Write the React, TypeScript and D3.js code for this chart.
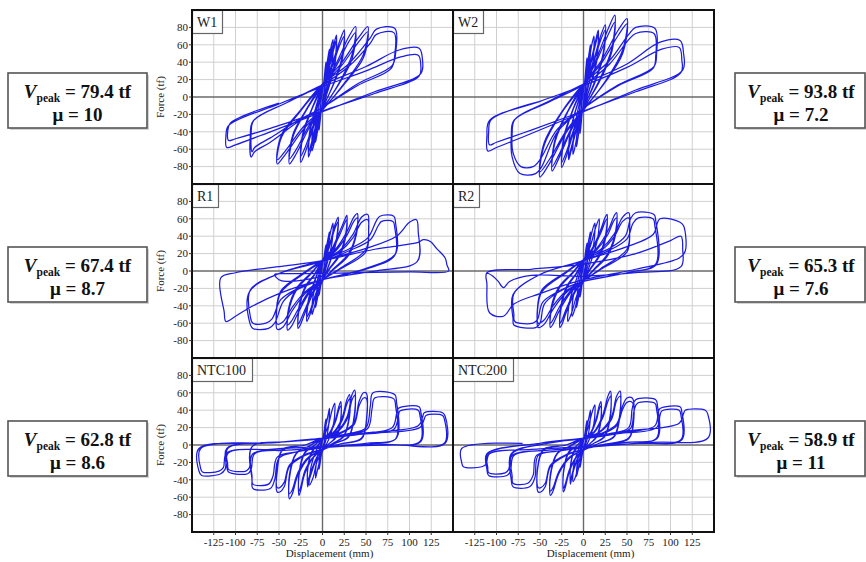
import React from 'react';
import * as d3 from 'd3';

type P = [number, number];

// ---- hysteresis loops (displacement mm, force tf), one array of cycles per specimen ----
const W1: P[][] = [
  [[0,6],[1.6,18],[3.2,34],[4,40],[3.6,24],[2,8],[0,-6],[-1.6,-17],[-3.2,-32],[-4,-38],[-3.6,-23],[-2,-8]],
  [[0,8],[3,25],[6.5,47],[8,55],[7,33],[4,11],[0,-8],[-3,-23],[-6.5,-44],[-8,-52],[-7,-31],[-4,-10]],
  [[0,10],[5,30],[9.5,56],[12,66],[11,40],[6,13],[0,-10],[-5,-28],[-9.5,-53],[-12,-62],[-11,-37],[-6,-12]],
  [[0,9],[5,27],[9.5,51],[12,60],[11,36],[6,12],[0,-9],[-5,-26],[-9.5,-48],[-12,-57],[-11,-34],[-6,-11]],
  [[0,12],[6.5,32],[13,60],[16,71],[14.5,43],[8,14],[0,-12],[-6.5,-31],[-13,-59],[-16,-69],[-14.5,-41],[-8,-14]],
  [[0,11],[6.5,29],[13,55],[16,65],[14.5,39],[8,13],[0,-11],[-6.5,-28],[-13,-54],[-16,-63],[-14.5,-38],[-8,-13]],
  [[0,13],[10,35],[20,65],[25,77],[22.5,46],[12.5,15],[0,-13],[-10,-34],[-20,-64],[-25,-75],[-22.5,-45],[-12.5,-15]],
  [[0,12],[10,32],[20,60],[25,70],[22.5,42],[12.5,14],[0,-12],[-10,-31],[-20,-58],[-25,-68],[-22.5,-41],[-12.5,-14]],
  [[0,14],[15,37],[30,69],[38,81],[34,49],[19,16],[0,-14],[-15,-35],[-30,-65],[-38,-77],[-34,-46],[-19,-16]],
  [[0,13],[15,34],[30,63],[38,74],[34,44],[19,15],[0,-13],[-15,-32],[-30,-60],[-38,-71],[-34,-43],[-19,-15]],
  [[0,15],[21,38],[42,69],[52,81],[47,49],[26,17],[0,-15],[-21,-36],[-42,-65],[-52,-77],[-47,-46],[-26,-17]],
  [[0,14],[21,35],[42,64],[52,75],[47,45],[26,16],[0,-14],[-21,-33],[-42,-61],[-52,-72],[-47,-43],[-26,-16]],
  [[0,15],[30,38],[55,68],[62,78],[83,79],[84,50],[80,36],[40,15],[0,-12],[-30,-30],[-60,-52],[-78,-63],[-82,-69],[-83,-45],[-80,-28],[-40,-6]],
  [[0,14],[30,35],[55,62],[62,72],[82,74],[83,48],[79,33],[40,13],[0,-12],[-30,-28],[-60,-47],[-78,-58],[-81,-63],[-82,-42],[-79,-27],[-40,-6]],
  [[0,14],[50,35],[88,54],[111,56],[115,42],[113,27],[60,6],[0,-17],[-60,-40],[-100,-55],[-110,-58],[-111,-45],[-108,-33],[-50,-8]],
  [[0,12],[50,30],[90,46],[110,48],[113,36],[111,24],[60,4],[0,-16],[-60,-36],[-100,-48],[-108,-50],[-109,-40],[-106,-30],[-50,-7]],
];

const W2: P[][] = [
  [[0,6],[1.6,20],[3.2,38],[4,45],[3.6,27],[2,9],[0,-6],[-1.6,-19],[-3.2,-36],[-4,-42],[-3.6,-25],[-2,-8]],
  [[0,8],[3,27],[6.5,51],[8,60],[7,36],[4,12],[0,-8],[-3,-25],[-6.5,-48],[-8,-57],[-7,-34],[-4,-11]],
  [[0,10],[5,32],[9.5,60],[12,70],[11,42],[6,14],[0,-10],[-5,-30],[-9.5,-56],[-12,-66],[-11,-40],[-6,-13]],
  [[0,12],[7,35],[14,65],[17,77],[15.5,46],[8.5,15],[0,-12],[-7,-33],[-14,-61],[-17,-72],[-15.5,-43],[-8.5,-14]],
  [[0,11],[7,33],[14,61],[17,72],[15.5,43],[8.5,14],[0,-11],[-7,-31],[-14,-58],[-17,-68],[-15.5,-41],[-8.5,-13]],
  [[0,13],[10,37],[20,71],[25,83],[22.5,50],[12.5,17],[0,-13],[-10,-36],[-20,-69],[-25,-81],[-22.5,-49],[-12.5,-16]],
  [[0,12],[10,35],[20,66],[25,77],[22.5,46],[12.5,15],[0,-12],[-10,-34],[-20,-64],[-25,-75],[-22.5,-45],[-12.5,-15]],
  [[0,14],[14,42],[29,80],[36,94],[32.5,56],[18,19],[0,-14],[-14,-38],[-29,-72],[-36,-85],[-32.5,-51],[-18,-17]],
  [[0,13],[14,39],[29,73],[36,86],[32.5,52],[18,17],[0,-13],[-14,-36],[-29,-68],[-36,-80],[-32.5,-48],[-18,-16]],
  [[0,15],[20,41],[40,77],[50,90],[45,54],[25,18],[0,-15],[-20,-41],[-40,-78],[-50,-92],[-45,-55],[-25,-18]],
  [[0,14],[20,38],[40,71],[50,84],[45,50],[25,17],[0,-14],[-20,-39],[-40,-73],[-50,-86],[-45,-52],[-25,-17]],
  [[0,15],[30,42],[52,72],[60,80],[82,79],[84,50],[81,35],[40,14],[0,-13],[-30,-40],[-48,-80],[-55,-88],[-73,-88],[-82,-69],[-83,-45],[-80,-27],[-40,-6]],
  [[0,14],[30,38],[52,66],[60,73],[81,73],[83,47],[80,33],[40,13],[0,-13],[-30,-37],[-50,-72],[-58,-80],[-72,-80],[-81,-64],[-82,-42],[-79,-26],[-40,-5]],
  [[0,15],[50,38],[88,63],[111,65],[115,50],[114,31],[60,8],[0,-17],[-60,-42],[-100,-58],[-110,-62],[-111,-45],[-108,-27],[-50,-5]],
  [[0,13],[50,34],[90,55],[110,57],[113,43],[112,28],[60,6],[0,-16],[-60,-38],[-100,-52],[-108,-55],[-109,-40],[-106,-26],[-50,-5]],
];

const R1: P[][] = [
  [[0,6],[1.6,15],[3.2,26],[4,30],[3.6,18],[2,6],[0,-6],[-1.6,-14],[-3.2,-24],[-4,-28],[-3.6,-17],[-2,-6]],
  [[0,8],[3,20],[6.5,38],[8,45],[7,27],[4,9],[0,-8],[-3,-19],[-6.5,-35],[-8,-42],[-7,-25],[-4,-9]],
  [[0,10],[5,24],[9.5,46],[12,55],[11,33],[6,11],[0,-10],[-5,-23],[-9.5,-42],[-12,-50],[-11,-30],[-6,-11]],
  [[0,12],[7,27],[14,52],[18,62],[16,37],[9,12],[0,-12],[-7,-26],[-14,-49],[-18,-58],[-16,-35],[-9,-12]],
  [[0,11],[7,25],[14,48],[18,57],[16,34],[9,11],[0,-11],[-7,-24],[-14,-45],[-18,-53],[-16,-32],[-9,-11]],
  [[0,12],[10,24],[20,46],[26,60],[28,64],[27,45],[20,20],[8,3],[0,-10],[-10,-24],[-20,-48],[-26,-63],[-28,-66],[-27,-45],[-20,-20],[-8,-3]],
  [[0,11],[10,22],[20,42],[26,56],[28,59],[27,41],[20,18],[8,2],[0,-10],[-10,-22],[-20,-44],[-26,-58],[-28,-61],[-27,-41],[-20,-18],[-8,-2]],
  [[0,13],[15,25],[28,45],[36,62],[40,66],[39,45],[30,20],[12,2],[0,-11],[-15,-25],[-28,-48],[-36,-64],[-40,-68],[-39,-47],[-30,-22],[-12,-2]],
  [[0,12],[15,23],[28,41],[36,57],[40,61],[39,42],[30,18],[12,1],[0,-11],[-15,-23],[-28,-44],[-36,-58],[-40,-62],[-39,-43],[-30,-20],[-12,-1]],
  [[0,12],[20,24],[35,42],[45,62],[52,65],[53,50],[50,25],[20,3],[0,-10],[-20,-26],[-35,-46],[-45,-64],[-52,-67],[-53,-50],[-48,-25],[-20,-2]],
  [[0,11],[20,22],[35,38],[45,56],[52,59],[53,45],[50,22],[20,2],[0,-10],[-20,-24],[-35,-42],[-45,-58],[-52,-61],[-53,-46],[-48,-23],[-20,-1]],
  [[0,12],[30,25],[52,38],[62,58],[66,63],[82,63],[84,55],[84,20],[50,3],[0,-10],[-30,-22],[-45,-35],[-55,-60],[-62,-66],[-80,-66],[-84,-58],[-84,-24],[-50,-3]],
  [[0,11],[30,23],[55,36],[64,52],[68,57],[81,57],[83,50],[83,18],[50,2],[0,-10],[-30,-21],[-48,-33],[-58,-55],[-65,-60],[-80,-60],[-83,-52],[-83,-22],[-50,-3]],
  [[0,12],[50,26],[85,40],[100,56],[108,59],[110,45],[109,11],[60,0],[0,-10],[-50,-26],[-80,-40],[-100,-52],[-111,-58],[-113,-47],[-117,-8],[-100,-2],[-50,5]],
  [[0,12],[60,25],[110,33],[116,36],[124,34],[131,26],[141,15],[143,7],[145,0],[100,-1],[40,-2],[-20,-3],[-45,-3],[-55,-4],[-50,-10],[-42,-12],[-20,-10],[0,-6]],
];

const R2: P[][] = [
  [[0,6],[1.6,16],[3.2,28],[4,32],[3.6,19],[2,6],[0,-6],[-1.6,-15],[-3.2,-26],[-4,-30],[-3.6,-18],[-2,-6]],
  [[0,8],[3,20],[6.5,38],[8,45],[7,27],[4,9],[0,-8],[-3,-19],[-6.5,-35],[-8,-42],[-7,-25],[-4,-9]],
  [[0,10],[5,24],[10,46],[13,55],[12,33],[6.5,11],[0,-10],[-5,-23],[-10,-44],[-13,-52],[-12,-31],[-6.5,-11]],
  [[0,12],[7,26],[14,50],[18,60],[16,36],[9,12],[0,-12],[-7,-26],[-14,-49],[-18,-58],[-16,-35],[-9,-12]],
  [[0,13],[10,26],[20,48],[25,62],[27,65],[26,45],[19,20],[8,3],[0,-11],[-10,-25],[-20,-48],[-25,-62],[-27,-65],[-26,-44],[-19,-19],[-8,-3]],
  [[0,12],[10,24],[20,44],[25,57],[27,60],[26,41],[19,18],[8,2],[0,-11],[-10,-23],[-20,-44],[-25,-57],[-27,-60],[-26,-40],[-19,-17],[-8,-2]],
  [[0,13],[15,26],[28,46],[35,63],[38,67],[37,46],[28,20],[12,2],[0,-11],[-15,-25],[-28,-46],[-35,-61],[-38,-65],[-37,-45],[-28,-20],[-12,-2]],
  [[0,12],[15,24],[28,42],[35,58],[38,61],[37,42],[28,18],[12,1],[0,-11],[-15,-23],[-28,-42],[-35,-56],[-38,-60],[-37,-41],[-28,-18],[-12,-1]],
  [[0,13],[20,25],[35,42],[45,62],[52,67],[53,50],[50,25],[20,3],[0,-11],[-20,-25],[-35,-44],[-45,-61],[-52,-65],[-53,-48],[-48,-24],[-20,-2]],
  [[0,12],[20,23],[35,39],[45,57],[52,61],[53,46],[50,22],[20,2],[0,-11],[-20,-23],[-35,-40],[-45,-56],[-52,-60],[-53,-44],[-48,-22],[-20,-1]],
  [[0,13],[30,26],[48,40],[54,60],[60,67],[81,65],[83,58],[84,8],[50,-2],[0,-12],[-30,-25],[-45,-38],[-50,-60],[-55,-65],[-80,-62],[-81,-55],[-81,-27],[-50,-4]],
  [[0,12],[30,24],[50,37],[57,55],[63,61],[80,60],[82,52],[83,8],[50,-2],[0,-12],[-30,-24],[-47,-36],[-53,-56],[-58,-60],[-79,-58],[-80,-50],[-80,-26],[-50,-4]],
  [[0,12],[50,28],[80,42],[88,60],[111,56],[115,52],[117,23],[110,15],[60,2],[0,-10],[-50,-26],[-80,-38],[-92,-52],[-108,-48],[-111,-15],[-111,-2],[-60,2]],
  [[0,8],[60,20],[100,35],[112,40],[114,25],[112,5],[60,-2],[0,-6],[-60,-5],[-85,-12],[-92,-19],[-98,-12],[-104,-6],[-111,-2]],
];

const NTC100: P[][] = [
  [[0,4],[1.6,14],[3.2,26],[4,30],[3.6,16],[2,4],[0,-4],[-1.6,-13],[-3.2,-24],[-4,-28],[-3.6,-15],[-2,-4]],
  [[0,6],[3,18],[6.5,35],[8,42],[7,22],[4,6],[0,-6],[-3,-17],[-6.5,-32],[-8,-38],[-7,-20],[-4,-6]],
  [[0,7],[6,20],[11,40],[14,48],[13,26],[7,6],[0,-7],[-6,-18],[-11,-38],[-15,-46],[-13,-24],[-7,-6]],
  [[0,7],[8,14],[15,30],[19,45],[21,50],[21,30],[16,10],[8,2],[0,-6],[-6,-14],[-12,-30],[-16,-43],[-17,-48],[-17,-28],[-12,-8],[-6,-1]],
  [[0,6],[8,13],[15,27],[19,41],[21,45],[21,27],[16,9],[8,2],[0,-6],[-6,-13],[-12,-27],[-16,-39],[-17,-44],[-17,-26],[-12,-7],[-6,-1]],
  [[0,7],[12,14],[22,30],[28,52],[31,58],[31,35],[24,10],[12,2],[0,-6],[-10,-14],[-20,-32],[-25,-52],[-27,-58],[-27,-35],[-20,-9],[-10,-1]],
  [[0,7],[12,13],[22,27],[28,47],[31,53],[31,32],[24,9],[12,2],[0,-6],[-10,-13],[-20,-29],[-25,-48],[-27,-53],[-27,-32],[-20,-8],[-10,-1]],
  [[0,7],[15,14],[28,32],[34,58],[37,63],[37,38],[30,10],[15,2],[0,-6],[-15,-14],[-28,-34],[-35,-57],[-38,-62],[-38,-38],[-30,-10],[-15,-1]],
  [[0,7],[15,13],[28,29],[34,52],[37,57],[37,34],[30,9],[15,2],[0,-6],[-15,-13],[-28,-31],[-35,-52],[-38,-56],[-38,-34],[-30,-9],[-15,-1]],
  [[0,8],[20,14],[36,25],[42,50],[47,60],[50,60],[51,35],[45,8],[20,1],[0,-5],[-20,-12],[-38,-25],[-44,-48],[-49,-54],[-52,-54],[-52,-30],[-46,-6],[-20,0]],
  [[0,7],[20,13],[36,23],[42,45],[47,54],[50,54],[51,32],[45,7],[20,1],[0,-5],[-20,-11],[-38,-23],[-44,-43],[-49,-49],[-52,-49],[-52,-28],[-46,-5],[-20,0]],
  [[0,8],[30,13],[50,20],[55,45],[58,60],[83,58],[85,50],[85,8],[50,2],[0,-3],[-30,-8],[-50,-15],[-55,-40],[-60,-50],[-80,-50],[-81,-40],[-81,-2],[-40,4]],
  [[0,8],[30,12],[52,19],[57,42],[60,54],[82,53],[84,45],[84,7],[50,2],[0,-3],[-30,-8],[-52,-14],[-57,-36],[-62,-45],[-80,-45],[-81,-36],[-81,-2],[-40,4]],
  [[0,8],[40,13],[80,20],[85,35],[87,42],[111,44],[113,38],[113,4],[60,1],[0,-3],[-40,-6],[-78,-10],[-82,-28],[-86,-33],[-108,-31],[-110,-25],[-110,-4],[-50,3]],
  [[0,7],[40,12],[82,18],[87,32],[89,39],[110,40],[112,34],[112,4],[60,1],[0,-3],[-40,-6],[-80,-10],[-84,-26],[-88,-30],[-108,-28],[-109,-22],[-109,-4],[-50,3]],
  [[0,8],[50,14],[110,22],[115,32],[117,37],[138,37],[141,33],[141,2],[80,0],[0,-2],[-60,-5],[-108,-9],[-112,-28],[-117,-33],[-139,-35],[-142,-30],[-142,-4],[-70,2]],
  [[0,7],[50,13],[112,20],[117,30],[119,34],[138,34],[140,30],[140,2],[80,0],[0,-2],[-60,-5],[-110,-9],[-114,-26],[-119,-30],[-138,-31],[-140,-27],[-140,-4],[-70,2]],
];

const NTC200: P[][] = [
  [[0,4],[1.6,13],[3.2,24],[4,28],[3.6,15],[2,4],[0,-4],[-1.6,-12],[-3.2,-22],[-4,-26],[-3.6,-14],[-2,-4]],
  [[0,6],[3,17],[6.5,33],[8,40],[7,21],[4,6],[0,-6],[-3,-16],[-6.5,-30],[-8,-36],[-7,-19],[-4,-6]],
  [[0,7],[5,19],[10,38],[13,46],[12,25],[6.5,6],[0,-7],[-5,-17],[-9,-36],[-12,-42],[-11,-22],[-6,-6]],
  [[0,7],[8,14],[15,32],[18,45],[20,50],[20,30],[15,10],[8,2],[0,-6],[-5,-13],[-11,-28],[-14,-40],[-15,-45],[-15,-26],[-11,-8],[-5,-1]],
  [[0,6],[8,13],[15,29],[18,41],[20,45],[20,27],[15,9],[8,2],[0,-6],[-5,-12],[-11,-26],[-14,-37],[-15,-41],[-15,-24],[-11,-7],[-5,-1]],
  [[0,7],[12,15],[22,34],[28,56],[31,62],[31,36],[24,10],[12,2],[0,-6],[-8,-14],[-16,-30],[-21,-49],[-23,-54],[-23,-32],[-17,-9],[-8,-1]],
  [[0,7],[12,14],[22,31],[28,50],[31,56],[31,33],[24,9],[12,2],[0,-6],[-8,-13],[-16,-28],[-21,-45],[-23,-50],[-23,-30],[-17,-8],[-8,-1]],
  [[0,7],[18,15],[32,32],[38,56],[42,62],[42,38],[35,10],[18,2],[0,-6],[-15,-14],[-28,-32],[-35,-53],[-38,-58],[-38,-36],[-30,-10],[-15,-1]],
  [[0,7],[18,14],[32,29],[38,51],[42,56],[42,34],[35,9],[18,2],[0,-6],[-15,-13],[-28,-30],[-35,-49],[-38,-53],[-38,-33],[-30,-9],[-15,-1]],
  [[0,8],[22,14],[38,24],[45,45],[50,54],[56,54],[58,35],[52,8],[25,1],[0,-5],[-20,-12],[-38,-25],[-44,-48],[-49,-54],[-52,-54],[-53,-30],[-46,-6],[-20,0]],
  [[0,7],[22,13],[38,22],[45,41],[50,49],[56,49],[58,32],[52,7],[25,1],[0,-5],[-20,-11],[-38,-23],[-44,-44],[-49,-49],[-52,-49],[-53,-28],[-46,-5],[-20,0]],
  [[0,8],[30,13],[52,20],[56,42],[60,52],[83,52],[85,45],[85,8],[50,3],[0,-3],[-30,-7],[-52,-12],[-56,-38],[-62,-48],[-81,-48],[-83,-40],[-83,-10],[-40,2]],
  [[0,8],[30,12],[54,19],[58,39],[62,48],[82,48],[84,41],[84,8],[50,3],[0,-3],[-30,-7],[-54,-12],[-58,-35],[-64,-44],[-81,-44],[-82,-36],[-82,-10],[-40,2]],
  [[0,8],[40,14],[82,22],[86,38],[88,42],[111,44],[113,38],[113,6],[60,2],[0,-3],[-40,-6],[-80,-12],[-84,-30],[-88,-35],[-109,-35],[-111,-28],[-111,-10],[-50,2]],
  [[0,7],[40,13],[84,20],[88,34],[90,39],[110,40],[112,34],[112,6],[60,2],[0,-3],[-40,-6],[-82,-12],[-86,-28],[-90,-32],[-109,-32],[-110,-26],[-110,-10],[-50,2]],
  [[0,8],[50,16],[110,25],[115,36],[117,40],[140,40],[143,35],[143,8],[80,3],[0,-2],[-60,-5],[-108,-10],[-112,-22],[-117,-25],[-138,-25],[-140,-20],[-140,-4],[-70,2]],
];

const specimenNames = ['W1', 'W2', 'R1', 'R2', 'NTC100', 'NTC200'];
const specimenLoops = [W1, W2, R1, R2, NTC100, NTC200];
const vPeak = ['79.4', '93.8', '67.4', '65.3', '62.8', '58.9'];
const ductility = ['10', '7.2', '8.7', '7.6', '8.6', '11'];
const xTicks = [-125, -100, -75, -50, -25, 0, 25, 50, 75, 100, 125];
const yTicks = [-80, -60, -40, -20, 0, 20, 40, 60, 80];
const xGrid = [-125, -100, -75, -50, -25, 25, 50, 75, 100, 125];
const yGrid = [-80, -60, -40, -20, 20, 40, 60, 80];

const SERIF = "'Liberation Serif', 'Times New Roman', serif";
const COLS = [192, 453];
const ROWS = [10, 184, 358];
const PW = 261;
const PH = 174;
const LABEL_W: Record<string, number> = { W1: 30, W2: 30, R1: 26, R2: 26, NTC100: 60, NTC200: 60 };

export default function App() {
  const panels = specimenNames.map((name, i) => {
    const col = i % 2;
    const row = Math.floor(i / 2);
    const x0 = COLS[col];
    const y0 = ROWS[row];
    const x = d3.scaleLinear().domain([-150, 150]).range([x0, x0 + PW]);
    const y = d3.scaleLinear().domain([-100, 100]).range([y0 + PH, y0]);
    const line = d3
      .line<P>()
      .x((p) => x(p[0]))
      .y((p) => y(p[1]))
      .curve(d3.curveCatmullRom.alpha(0.5));
    const d = line(specimenLoops[i].flat() as P[]) || '';
    return { name, i, col, row, x0, y0, x, y, d };
  });

  return (
    <svg
      width={866}
      height={562}
      style={{ position: 'absolute', left: 0, top: 0, background: '#fff' }}
      fontFamily={SERIF}
    >
      <rect x={0} y={0} width={866} height={562} fill="#fff" />
      <defs>
        {panels.map((p) => (
          <clipPath id={`clip${p.i}`} key={p.i}>
            <rect x={p.x0} y={p.y0} width={PW} height={PH} />
          </clipPath>
        ))}
      </defs>
      {panels.map((p) => (
        <g key={p.name}>
          {xGrid.map((v) => (
            <line key={'gx' + v} x1={p.x(v)} x2={p.x(v)} y1={p.y0} y2={p.y0 + PH} stroke="#cfcfcf" strokeWidth={1} />
          ))}
          {yGrid.map((v) => (
            <line key={'gy' + v} x1={p.x0} x2={p.x0 + PW} y1={p.y(v)} y2={p.y(v)} stroke="#cfcfcf" strokeWidth={1} />
          ))}
          <line x1={p.x(0)} x2={p.x(0)} y1={p.y0} y2={p.y0 + PH} stroke="#6a6a6a" strokeWidth={1.4} />
          <line x1={p.x0} x2={p.x0 + PW} y1={p.y(0)} y2={p.y(0)} stroke="#6a6a6a" strokeWidth={1.4} />
          <path d={p.d} fill="none" stroke="#1c1ce4" strokeWidth={1.25} strokeLinejoin="round" clipPath={`url(#clip${p.i})`} />
          <rect x={p.x0 + 0.5} y={p.y0 + 0.5} width={LABEL_W[p.name]} height={23} fill="#fff" stroke="#666" strokeWidth={1.2} />
          <text x={p.x0 + 5} y={p.y0 + 17} fontSize={14} fill="#222">
            {p.name}
          </text>
          <rect x={p.x0} y={p.y0} width={PW} height={PH} fill="none" stroke="#111" strokeWidth={2} />
          {p.col === 0 && (
            <g>
              {yTicks.map((v) => (
                <g key={'yt' + v}>
                  <line x1={p.x0 - 3} x2={p.x0} y1={p.y(v)} y2={p.y(v)} stroke="#333" strokeWidth={1} />
                  <text x={p.x0 - 4} y={p.y(v)} dy="0.35em" textAnchor="end" fontSize={11} fill="#222">
                    {v}
                  </text>
                </g>
              ))}
              <text
                transform={`translate(${p.x0 - 28},${p.y0 + PH / 2}) rotate(-90)`}
                textAnchor="middle"
                fontSize={11}
                fill="#222"
              >
                Force (tf)
              </text>
            </g>
          )}
          {p.row === 2 && (
            <g>
              {xTicks.map((v) => (
                <g key={'xt' + v}>
                  <line x1={p.x(v)} x2={p.x(v)} y1={p.y0 + PH} y2={p.y0 + PH + 3} stroke="#333" strokeWidth={1} />
                  <text x={p.x(v)} y={p.y0 + PH + 14} textAnchor="middle" fontSize={11} fill="#222">
                    {v}
                  </text>
                </g>
              ))}
              <text x={p.x(0) + 7} y={p.y0 + PH + 25} textAnchor="middle" fontSize={11} fill="#222">
                Displacement (mm)
              </text>
            </g>
          )}
        </g>
      ))}
      {panels.map((p) => {
        const bx = p.col === 0 ? 8 : 735;
        const bw = p.col === 0 ? 139 : 130;
        const by = p.y0 + 63;
        const cx = bx + bw / 2 + (p.col === 0 ? 0 : 1);
        return (
          <g key={'box' + p.name}>
            <rect x={bx + 2} y={by + 2} width={bw} height={55} fill="#d4d4d4" />
            <rect x={bx} y={by} width={bw} height={55} fill="#fff" stroke="#555" strokeWidth={1.6} />
            <text x={cx} y={by + 25} textAnchor="middle" fontSize={19} fontWeight="bold" fill="#111">
              <tspan fontStyle="italic">V</tspan>
              <tspan fontSize={11.5} dy={4}>peak</tspan>
              <tspan dy={-4}>{` = ${vPeak[p.i]} tf`}</tspan>
            </text>
            <text x={cx} y={by + 48} textAnchor="middle" fontSize={19} fontWeight="bold" fill="#111">
              {`μ = ${ductility[p.i]}`}
            </text>
          </g>
        );
      })}
    </svg>
  );
}
